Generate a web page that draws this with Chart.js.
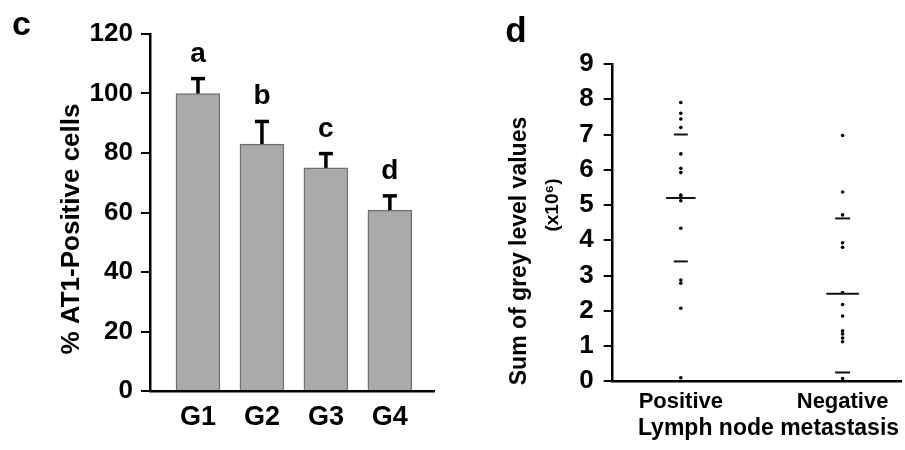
<!DOCTYPE html>
<html>
<head>
<meta charset="utf-8">
<script src="https://cdn.jsdelivr.net/npm/chart.js@4/dist/chart.umd.min.js"></script>
<style>
html,body{margin:0;padding:0;background:#fff;}
#wrap{position:relative;width:905px;height:450px;overflow:hidden;background:#fff;}
#c1{position:absolute;left:0;top:0;}
#c2{position:absolute;left:460px;top:0;}
</style>
</head>
<body>
<div id="wrap">
<canvas id="c1" width="460" height="450"></canvas>
<canvas id="c2" width="445" height="450"></canvas>
</div>
<script>
// ---------- Panel c data ----------
const groups = ['G1', 'G2', 'G3', 'G4'];
const groupMeans = [100, 83, 75, 60.8];
const groupErrors = [5, 7.6, 4.8, 4.8];
const groupLetters = ['a', 'b', 'c', 'd'];
const leftYTicks = [0, 20, 40, 60, 80, 100, 120];
const leftYTitle = '% AT1-Positive cells';

// ---------- Panel d data ----------
const metastasisGroups = ['Positive', 'Negative'];
const positiveValues = [7.91, 7.6, 7.44, 7.2, 6.45, 6.04, 5.92, 5.28, 5.22, 5.12, 4.34, 2.87, 2.78, 2.07, 0.1];
const negativeValues = [6.97, 5.37, 4.72, 3.93, 3.8, 2.52, 2.18, 1.85, 1.43, 1.34, 1.23, 1.12, 0.08];
const positiveLines = [7.0, 5.2, 3.4];   // upper, middle, lower
const negativeLines = [4.62, 2.48, 0.25]; // upper, middle, lower
const rightYTicks = [0, 1, 2, 3, 4, 5, 6, 7, 8, 9];
const rightYTitle = 'Sum of grey level values';
const rightYUnit = '(x10\u2076)';
const rightXTitle = 'Lymph node metastasis';

const FONT = '"Liberation Sans", Arial, Helvetica, sans-serif';

function drawRotated(ctx, text, x, y, font) {
  ctx.save();
  ctx.translate(x, y);
  ctx.rotate(-Math.PI / 2);
  ctx.font = font;
  ctx.textAlign = 'center';
  ctx.textBaseline = 'middle';
  ctx.fillStyle = '#000';
  ctx.fillText(text, 0, 0);
  ctx.restore();
}

// ---------- Panel c ----------
const leftPlugin = {
  id: 'leftExtras',
  afterDatasetsDraw(chart) {
    const { ctx, scales: { x, y } } = chart;
    ctx.save();
    ctx.strokeStyle = '#000';
    ctx.fillStyle = '#000';
    groups.forEach((g, i) => {
      const cx = x.getPixelForValue(i + 1);
      const yTop = y.getPixelForValue(groupMeans[i]);
      const yErr = y.getPixelForValue(groupMeans[i] + groupErrors[i]);
      ctx.lineWidth = 3.5;
      ctx.beginPath();
      ctx.moveTo(cx, yTop);
      ctx.lineTo(cx, yErr);
      ctx.stroke();
      ctx.beginPath();
      ctx.moveTo(cx - 7, yErr);
      ctx.lineTo(cx + 7, yErr);
      ctx.stroke();
      ctx.font = 'bold 28px ' + FONT;
      ctx.textAlign = 'center';
      ctx.textBaseline = 'alphabetic';
      ctx.fillText(groupLetters[i], cx, yErr - 17);
    });
    ctx.font = 'bold 34px ' + FONT;
    ctx.textAlign = 'center';
    ctx.textBaseline = 'alphabetic';
    ctx.fillText('c', 21.5, 35);
    ctx.restore();
    drawRotated(ctx, leftYTitle, 72, 229, 'bold 26px ' + FONT);
  }
};

new Chart(document.getElementById('c1'), {
  type: 'bar',
  data: {
    datasets: [{
      data: groups.map((g, i) => ({ x: i + 1, y: groupMeans[i] })),
      backgroundColor: '#aaaaaa',
      borderColor: '#707070',
      borderWidth: 1.5,
      barThickness: 44
    }]
  },
  options: {
    responsive: false,
    animation: false,
    layout: { padding: { left: 0, top: 34, right: 26, bottom: 0 } },
    plugins: { legend: { display: false }, tooltip: { enabled: false } },
    scales: {
      x: {
        type: 'linear',
        offset: false,
        min: 0.25,
        max: 4.69,
        afterBuildTicks: (ax) => { ax.ticks = groups.map((g, i) => ({ value: i + 1 })); },
        ticks: {
          callback: (v) => groups[v - 1],
          font: { family: FONT, size: 27, weight: 'bold' },
          color: '#000',
          padding: 10,
          maxRotation: 0,
          autoSkip: false
        },
        grid: { display: false, drawTicks: false, offset: false },
        border: { display: true, color: '#000', width: 2.5 },
        afterFit: (s) => { s.height = 59; }
      },
      y: {
        min: 0,
        max: 120,
        afterBuildTicks: (ax) => { ax.ticks = leftYTicks.map(v => ({ value: v })); },
        ticks: {
          font: { family: FONT, size: 26, weight: 'bold' },
          color: '#000',
          padding: 8
        },
        grid: { drawOnChartArea: false, color: '#000', tickLength: 9, lineWidth: 2 },
        border: { display: true, color: '#000', width: 2.5 },
        afterFit: (s) => { s.width = 150; }
      }
    }
  },
  plugins: [leftPlugin]
});

// ---------- Panel d ----------
const rightPlugin = {
  id: 'rightExtras',
  afterDatasetsDraw(chart) {
    const { ctx, scales: { x, y } } = chart;
    ctx.save();
    ctx.strokeStyle = '#111';
    ctx.lineWidth = 2;
    const sets = [positiveLines, negativeLines];
    const wide = [14.7, 16.3];
    const narrow = [7, 7.5];
    sets.forEach((lines, gi) => {
      const cx = x.getPixelForValue(gi + 1);
      lines.forEach((v, li) => {
        const half = li === 1 ? wide[gi] : narrow[gi];
        const py = y.getPixelForValue(v);
        ctx.beginPath();
        ctx.moveTo(cx - half, py);
        ctx.lineTo(cx + half, py);
        ctx.stroke();
      });
    });
    ctx.fillStyle = '#000';
    ctx.font = 'bold 35px ' + FONT;
    ctx.textAlign = 'center';
    ctx.textBaseline = 'alphabetic';
    ctx.fillText('d', 56, 42);
    ctx.font = 'bold 23px ' + FONT;
    ctx.textBaseline = 'middle';
    ctx.fillText(rightXTitle, 308.5, 429);
    ctx.restore();
    drawRotated(ctx, rightYTitle, 60, 251, 'bold 23px ' + FONT);
    drawRotated(ctx, rightYUnit, 93, 205, 'bold 19px ' + FONT);
  }
};

new Chart(document.getElementById('c2'), {
  type: 'scatter',
  data: {
    datasets: [
      { data: positiveValues.map(v => ({ x: 1, y: v })), pointRadius: 1.8, pointBackgroundColor: '#000', pointBorderWidth: 0 },
      { data: negativeValues.map(v => ({ x: 2, y: v })), pointRadius: 1.8, pointBackgroundColor: '#000', pointBorderWidth: 0 }
    ]
  },
  options: {
    responsive: false,
    animation: false,
    layout: { padding: { left: 0, top: 64, right: 0, bottom: 0 } },
    plugins: { legend: { display: false }, tooltip: { enabled: false } },
    scales: {
      x: {
        type: 'linear',
        min: 0.579,
        max: 2.361,
        afterBuildTicks: (ax) => { ax.ticks = metastasisGroups.map((g, i) => ({ value: i + 1 })); },
        ticks: {
          callback: (v) => metastasisGroups[v - 1],
          font: { family: FONT, size: 22, weight: 'bold' },
          color: '#000',
          padding: 7.5,
          maxRotation: 0,
          autoSkip: false
        },
        grid: { display: false, drawTicks: false },
        border: { display: true, color: '#000', width: 2.5 },
        afterFit: (s) => { s.height = 68.7; }
      },
      y: {
        min: 0,
        max: 9,
        afterBuildTicks: (ax) => { ax.ticks = rightYTicks.map(v => ({ value: v })); },
        ticks: {
          font: { family: FONT, size: 26, weight: 'bold' },
          color: '#000',
          padding: 10
        },
        grid: { drawOnChartArea: false, color: '#000', tickLength: 9, lineWidth: 2 },
        border: { display: true, color: '#000', width: 2.5 },
        afterFit: (s) => { s.width = 152.7; }
      }
    }
  },
  plugins: [rightPlugin]
});
</script>
</body>
</html>
